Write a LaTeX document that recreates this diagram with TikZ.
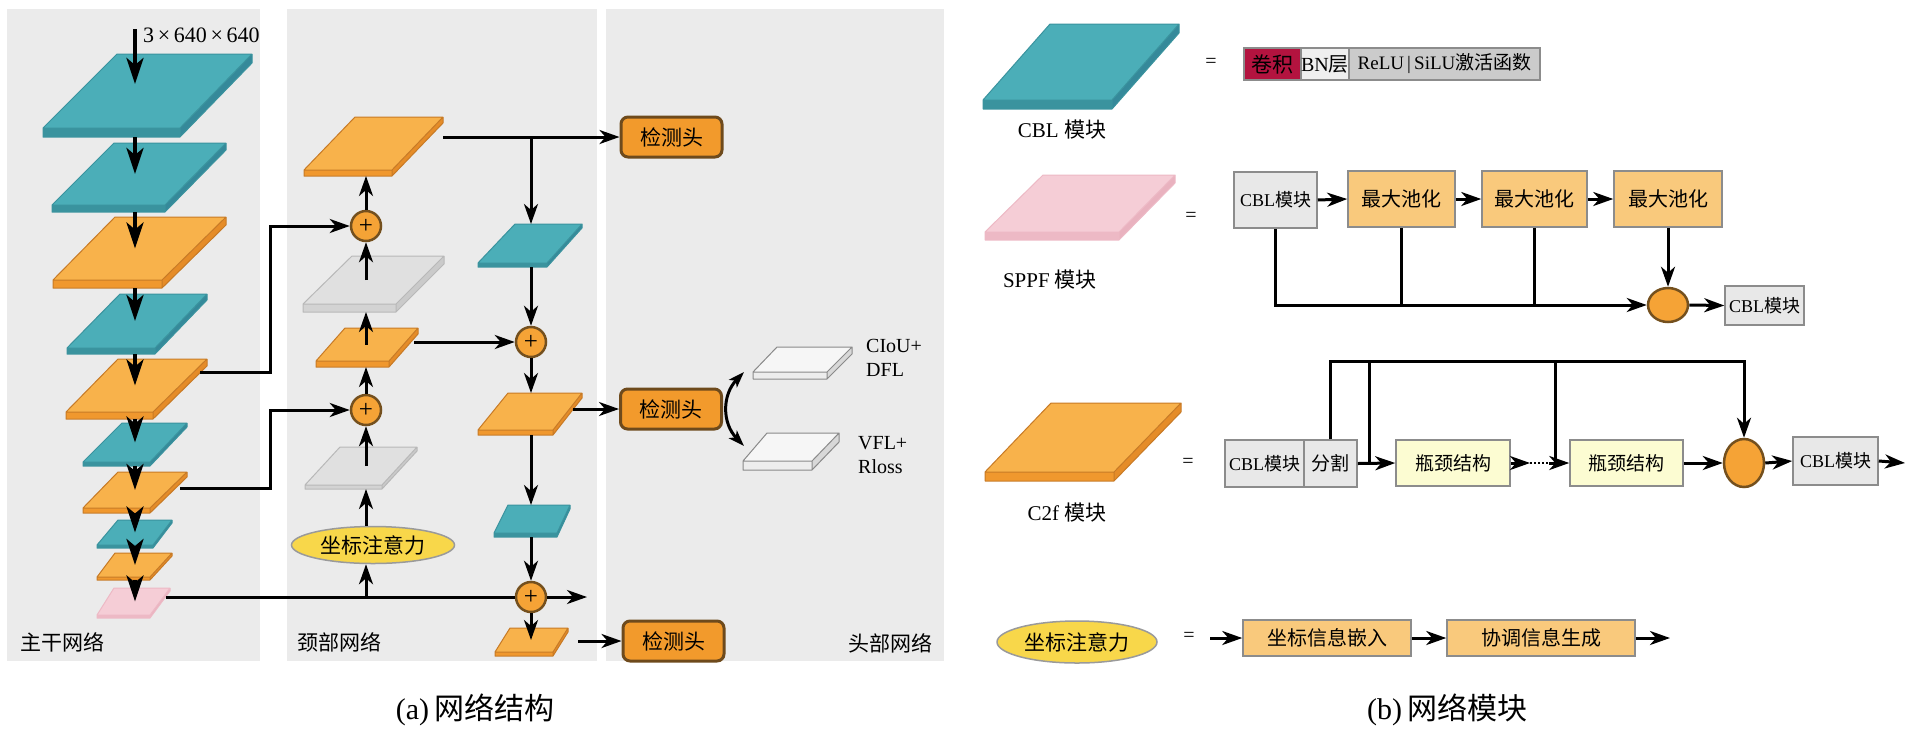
\documentclass[tikz,border=0pt]{standalone}
\usepackage{fontspec}
\setmainfont{Liberation Serif}
\newfontfamily\cjk{Noto Sans CJK SC}
\usetikzlibrary{arrows.meta,shapes.geometric}
\newcommand\myfs[2]{\fontsize{#1}{#2}\selectfont}
\newcommand\zhs[1]{{\cjk #1}}
\definecolor{panel}{HTML}{EBEBEB}
\definecolor{cblT}{HTML}{4BAEB8}\definecolor{cblF}{HTML}{3A939E}\definecolor{cblS}{HTML}{35899A}\definecolor{cblE}{HTML}{3A939E}
\definecolor{oraT}{HTML}{F8B24B}\definecolor{oraF}{HTML}{F0982E}\definecolor{oraS}{HTML}{E58C28}\definecolor{oraE}{HTML}{C77A26}
\definecolor{gryT}{HTML}{E0E0E0}\definecolor{gryF}{HTML}{D3D3D3}\definecolor{gryS}{HTML}{CACACA}\definecolor{gryE}{HTML}{B8B8B8}
\definecolor{pnkT}{HTML}{F5CDD6}\definecolor{pnkF}{HTML}{EDB9C5}\definecolor{pnkS}{HTML}{E9B2BF}\definecolor{pnkE}{HTML}{EDB9C5}
\definecolor{whtT}{HTML}{F6F6F6}\definecolor{whtF}{HTML}{EDEDED}\definecolor{whtS}{HTML}{D8D8D8}\definecolor{whtE}{HTML}{8A8A8A}
\definecolor{headF}{HTML}{F29A2C}\definecolor{headD}{HTML}{6E4A1C}
\definecolor{plusF}{HTML}{F5A336}\definecolor{plusD}{HTML}{74501E}
\definecolor{ellY}{HTML}{F8D74A}\definecolor{ellD}{HTML}{9A9A9A}
\definecolor{boxG}{HTML}{E8E8E8}\definecolor{boxD}{HTML}{8C8C8C}
\definecolor{boxO}{HTML}{F9C97C}\definecolor{boxY}{HTML}{FCFCD2}
\definecolor{crim}{HTML}{B3133F}\definecolor{bnW}{HTML}{EFEFEF}\definecolor{reluG}{HTML}{CBCBCB}
% name, kind, xbl, xbr, yb, xtl, xtr, yt, thickness
\newcommand{\drawslab}[9]{%
  \fill[#2S] (#4,#5) -- (#7,#8) -- (#7,#8+#9) -- (#4,#5+#9) -- cycle;
  \fill[#2F] (#3,#5) rectangle (#4,#5+#9);
  \fill[#2T] (#3,#5) -- (#4,#5) -- (#7,#8) -- (#6,#8) -- cycle;
  \draw[#2E, line width=1pt, line join=round] (#3,#5) -- (#6,#8) -- (#7,#8) -- (#7,#8+#9) -- (#4,#5+#9) -- (#3,#5+#9) -- cycle (#3,#5) -- (#4,#5) -- (#7,#8) (#4,#5) -- (#4,#5+#9);
  \coordinate (#1) at ({(#3+#4+#6+#7)/4},{(#5+#8)/2});
  \coordinate (#1b) at ({(#3+#4)/2},{#5+#9});
  \coordinate (#1t) at ({(#6+#7)/2},#8);
}
\begin{document}
\begin{tikzpicture}[x=1pt,y=-1pt,
  conn/.style={line width=3pt},
  arr/.style={line width=3pt,-{Stealth[length=20pt,width=14pt,inset=6pt]}},
  barr/.style={line width=4pt,-{Stealth[length=26pt,width=17pt,inset=7pt]}},
  plusnode/.style={circle,fill=plusF,draw=plusD,line width=2.5pt,minimum size=30pt,inner sep=0pt,font=\myfs{25}{25}},
  head/.style={rectangle,rounded corners=7pt,fill=headF,draw=headD,line width=3pt,minimum width=101pt,minimum height=40pt,inner sep=0pt,font=\cjk\myfs{21}{21}},
  lbl/.style={inner sep=0pt,font=\myfs{21}{25}},
  eq/.style={inner sep=0pt,font=\myfs{20}{20}},
  gbox/.style={rectangle,fill=boxG,draw=boxD,line width=1.5pt,inner sep=0pt,font=\myfs{18}{18}},
  obox/.style={rectangle,fill=boxO,draw=boxD,line width=1.5pt,inner sep=0pt,font=\cjk\myfs{20}{20}},
  ybox/.style={rectangle,fill=boxY,draw=boxD,line width=1.5pt,inner sep=0pt,font=\cjk\myfs{19}{19}},
  ell/.style={ellipse,fill=ellY,draw=ellD,line width=1.5pt,inner sep=0pt,font=\cjk\myfs{21}{21}},
  orb/.style={ellipse,fill=plusF,draw=plusD,line width=2.5pt,inner sep=0pt},
  cell/.style={rectangle,draw=boxD,line width=1.5pt,inner sep=0pt,minimum height=32pt}]
\useasboundingbox (0,0) rectangle (1910,732);
\fill[white] (0,0) rectangle (1910,732);
% panels
\fill[panel] (7,9) rectangle (260,661);
\fill[panel] (287,9) rectangle (597,661);
\fill[panel] (606,9) rectangle (944,661);
% backbone
\drawslab{L1}{cbl}{43}{180}{128}{117}{252}{54}{9}
\drawslab{L2}{cbl}{52}{165}{205}{114}{226}{143}{7}
\drawslab{L3}{ora}{53}{162}{280}{115}{226}{217}{8}
\drawslab{L4}{cbl}{67}{155}{348}{120}{207}{294}{6}
\drawslab{L5}{ora}{66}{153}{412}{118}{207}{359}{7}
\drawslab{L6}{cbl}{83}{150}{462}{122}{187}{423}{4}
\drawslab{L7}{ora}{83}{150}{508}{118}{187}{472}{5}
\drawslab{L8}{cbl}{97}{153}{545}{118}{172}{520}{3}
\drawslab{L9}{ora}{97}{150}{577}{115}{172}{553}{3}
\drawslab{L10}{pnk}{97}{150}{615}{114}{170}{588}{3}
% neck
\drawslab{N1}{ora}{304}{392}{170}{355}{443}{117}{6}
\drawslab{G1}{gry}{303}{396}{304}{352}{444}{256}{8}
\drawslab{N2}{ora}{316}{389}{361}{345}{418}{328}{6}
\drawslab{G2}{gry}{305}{382}{485}{340}{417}{447}{4}
\drawslab{T1}{cbl}{478}{547}{263}{515}{582}{224}{4}
\drawslab{N3}{ora}{478}{553}{430}{508}{582}{393}{5}
\drawslab{T2}{cbl}{494}{557}{533}{508}{570}{505}{4}
\drawslab{N5}{ora}{495}{553}{652}{510}{568}{628}{4}
% head
\drawslab{W1}{wht}{753}{827}{372}{777}{852}{347}{7}
\drawslab{W2}{wht}{743}{812}{461}{767}{839}{433}{9}
% backbone arrows
\coordinate (bx) at (135,0);
\coordinate (in0) at (135,29);
\coordinate (in1) at (135,84);
\draw[barr] (in0) -- (in1);
\draw[barr] (bx |- L1b) -- (bx |- L2);
\draw[barr] (bx |- L2b) -- (bx |- L3);
\draw[barr] (bx |- L3b) -- (bx |- L4);
\draw[barr] (bx |- L4b) -- (bx |- L5);
\draw[barr] (bx |- L5b) -- (bx |- L6);
\draw[barr] (bx |- L6b) -- (bx |- L7);
\draw[barr] (bx |- L7b) -- (bx |- L8);
\draw[barr] (bx |- L8b) -- (bx |- L9);
\draw[barr] (bx |- L9b) -- (bx |- L10);
\node[anchor=west,inner sep=0pt,font=\myfs{22}{22}] (inlbl) at (143,35) {3\,×\,640\,×\,640};
% neck nodes
\node[plusnode] (P1) at (366,226) {+};
\node[plusnode] (P2) at (366,410) {+};
\node[plusnode] (P3) at (531,342) {+};
\node[plusnode] (P4) at (531,597) {+};
\node[ell,minimum width=163pt,minimum height=37pt] (E1) at (373,545) {坐标注意力};
\node[head] (H1) at (671.5,137) {检测头};
\node[head] (H2) at (671,409) {检测头};
\node[head] (H3) at (673.5,641) {检测头};
\coordinate (nx) at (366,0);
\coordinate (hx) at (531,0);
\coordinate (o5) at (200,372);
\coordinate (k1) at (270,226);
\coordinate (o7) at (180,488);
\coordinate (k2) at (270,410);
\coordinate (o10) at (166,597);
\coordinate (pend) at (587,597);
\coordinate (n1o) at (443,137);
\coordinate (n2o) at (414,342);
\coordinate (n3o) at (573,409);
\coordinate (n5o) at (578,641);
\draw[arr] (o5) -| (k1) -- (P1.west);
\draw[arr] (o7) -| (k2) -- (P2.west);
\draw[conn] (o10) -- (P4.west);
\draw[arr] (P4.east) -- (pend);
\draw[arr] (P1.north) -- (nx |- N1b);
\draw[arr] (nx |- G1) -- (P1.south);
\draw[arr] (nx |- N2) -- (nx |- G1b);
\draw[arr] (P2.north) -- (nx |- N2b);
\draw[arr] (nx |- G2) -- (P2.south);
\draw[arr] (nx |- E1.north) -- (nx |- G2b);
\draw[arr] (nx |- P4) -- (nx |- E1.south);
\draw[arr] (n1o) -- (H1.west);
\draw[arr] (hx |- n1o) -- (hx |- T1t);
\draw[arr] (hx |- T1b) -- (P3.north);
\draw[arr] (n2o) -- (P3.west);
\draw[arr] (P3.south) -- (hx |- N3t);
\draw[arr] (n3o) -- (H2.west);
\draw[arr] (hx |- N3b) -- (hx |- T2t);
\draw[arr] (hx |- T2b) -- (P4.north);
\draw[arr] (P4.south) -- (hx |- N5);
\draw[arr] (n5o) -- (H3.west);
% head panel
\coordinate (cv1) at (744,372);
\coordinate (cv2) at (744,446);
\draw[line width=3pt,{Stealth[length=16pt,width=11pt,inset=4pt]}-{Stealth[length=16pt,width=11pt,inset=4pt]}] (cv1) .. controls (722,395) and (722,423) .. (cv2);
\node[anchor=west,align=left,inner sep=0pt,font=\myfs{20}{24}] (lw1) at (866,358) {CIoU+\\DFL};
\node[anchor=west,align=left,inner sep=0pt,font=\myfs{20}{24}] (lw2) at (858,455) {VFL+\\Rloss};
% panel labels
\node[lbl,anchor=west,font=\cjk\myfs{21}{21}] (lb1) at (20,642) {主干网络};
\node[lbl,anchor=west,font=\cjk\myfs{21}{21}] (lb2) at (297,642) {颈部网络};
\node[lbl,anchor=east,font=\cjk\myfs{21}{21}] (lb3) at (933,643) {头部网络};
% ===== right: CBL
\drawslab{S1}{cbl}{983}{1112}{100}{1050}{1179}{24}{9}
\node[lbl] (lS1) at (1062,130) {CBL \zhs{模块}};
\node[eq] (q1) at (1211,63) {=};
\node[cell,fill=crim,minimum width=57pt,font=\cjk\myfs{21}{21}] (c1) at (1272.5,64) {卷积};
\node[cell,fill=bnW,minimum width=48pt,font=\myfs{20}{20}] (c2) at (1325,64) {BN\zhs{层}};
\node[cell,fill=reluG,minimum width=191pt,font=\myfs{19}{19}] (c3) at (1444.5,64) {ReLU\,|\,SiLU\zhs{激活函数}};
% ===== SPPF
\drawslab{S2}{pnk}{985}{1119}{232}{1043}{1175}{175}{8}
\node[lbl] (lS2) at (1050,280) {SPPF \zhs{模块}};
\node[eq] (q2) at (1191,217) {=};
\node[gbox,minimum width=83pt,minimum height=56pt] (Q0) at (1275.5,200) {CBL\zhs{模块}};
\node[obox,minimum width=107pt,minimum height=56pt] (Q1) at (1401.5,199) {最大池化};
\node[obox,minimum width=105pt,minimum height=56pt] (Q2) at (1534.5,199) {最大池化};
\node[obox,minimum width=108pt,minimum height=56pt] (Q3) at (1668,199) {最大池化};
\node[orb,minimum width=40pt,minimum height=34pt] (Q4) at (1668,305) {};
\node[gbox,minimum width=79pt,minimum height=39pt] (Q5) at (1764.5,305.5) {CBL\zhs{模块}};
\draw[arr] (Q0.east) -- (Q1.west);
\draw[arr] (Q1.east) -- (Q2.west);
\draw[arr] (Q2.east) -- (Q3.west);
\draw[arr] (Q0.south) -- (Q0.south |- Q4) -- (Q4.west);
\draw[conn] (Q1.south) -- (Q1.south |- Q4);
\draw[conn] (Q2.south) -- (Q2.south |- Q4);
\draw[arr] (Q3.south) -- (Q4.north);
\draw[arr] (Q4.east) -- (Q5.west);
% ===== C2f
\drawslab{S3}{ora}{985}{1114}{472}{1051}{1181}{403}{9}
\node[lbl] (lS3) at (1067,513) {C2f \zhs{模块}};
\node[eq] (q3) at (1188,463) {=};
\node[gbox,minimum width=79pt,minimum height=47pt] (R0) at (1264.5,463.5) {CBL\zhs{模块}};
\node[gbox,minimum width=53pt,minimum height=47pt,font=\cjk\myfs{19}{19}] (R1) at (1330.5,463.5) {分割};
\node[ybox,minimum width=114pt,minimum height=46pt] (R2) at (1453,463) {瓶颈结构};
\node[ybox,minimum width=113pt,minimum height=46pt] (R3) at (1626.5,463) {瓶颈结构};
\node[orb,minimum width=40pt,minimum height=48pt] (R4) at (1744,463) {};
\node[gbox,minimum width=85pt,minimum height=48pt] (R5) at (1835.5,461) {CBL\zhs{模块}};
\coordinate (rt) at (1330,361);
\coordinate (rv1) at (1369,361);
\coordinate (rv2) at (1555,361);
\coordinate (d1) at (1530,463);
\coordinate (d2) at (1549,463);
\coordinate (rend) at (1905,463);
\draw[arr] (R1.north) -- (R1.north |- rt) -| (R4.north);
\draw[conn] (rv1) -- (rv1 |- R2);
\draw[conn] (rv2) -- (rv2 |- R3);
\draw[arr] (R1.east) -- (R2.west);
\draw[arr] (R2.east) -- (d1);
\draw[line width=2pt,dotted] (d1) -- (d2);
\draw[arr] (d2) -- (R3.west);
\draw[arr] (R3.east) -- (R4.west);
\draw[arr] (R4.east) -- (R5.west);
\draw[arr] (R5.east) -- (rend);
% ===== coordinate attention
\node[ell,minimum width=160pt,minimum height=42pt] (E2) at (1077,642) {坐标注意力};
\node[eq] (q4) at (1189,637) {=};
\node[obox,minimum width=168pt,minimum height=36pt] (A1) at (1327,638) {坐标信息嵌入};
\node[obox,minimum width=188pt,minimum height=36pt] (A2) at (1541,638) {协调信息生成};
\coordinate (a0) at (1210,638);
\coordinate (a3) at (1670,638);
\draw[arr] (a0) -- (A1.west);
\draw[arr] (A1.east) -- (A2.west);
\draw[arr] (A2.east) -- (a3);
% captions
\node[inner sep=0pt,font=\myfs{30}{30}] (capA) at (475,710) {(a)\,\zhs{网络结构}};
\node[inner sep=0pt,font=\myfs{30}{30}] (capB) at (1447,710) {(b)\,\zhs{网络模块}};
\end{tikzpicture}
\end{document}
